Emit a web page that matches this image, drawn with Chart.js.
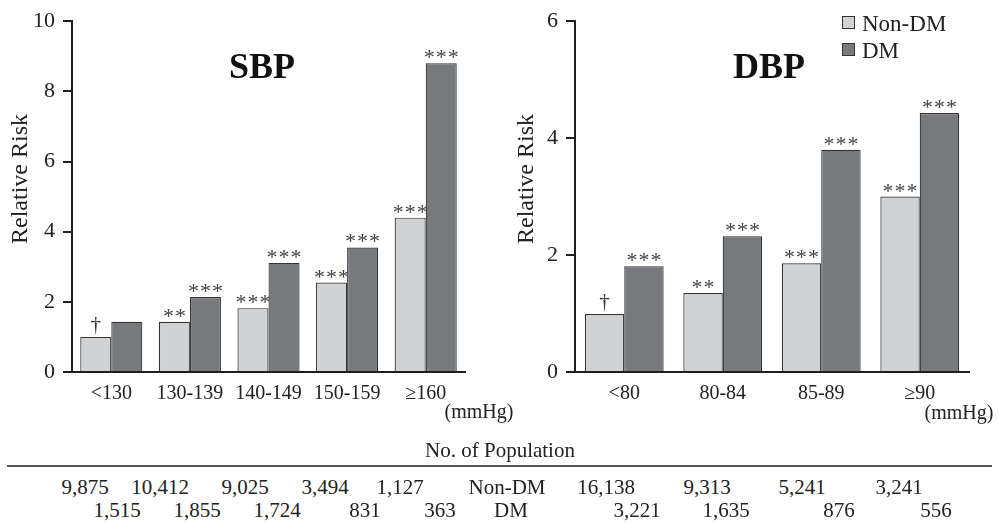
<!DOCTYPE html>
<html>
<head>
<meta charset="utf-8">
<script src="https://cdn.jsdelivr.net/npm/chart.js@4"></script>
<style>
  html, body { margin: 0; padding: 0; background: #fff; }
  body { width: 999px; height: 524px; position: relative; overflow: hidden;
         font-family: "Liberation Serif", "Times New Roman", serif; color: #222; }
  .abs { position: absolute; white-space: nowrap; line-height: 1; transform: translate(-50%, -50%); }
  .cv { position: absolute; top: 0; }
  .sw { position: absolute; width: 11px; height: 11px; border: 1.5px solid #333; }
</style>
</head>
<body>
<div class="cv" style="left:0;width:500px;height:430px;"><canvas id="sbp" width="500" height="430"></canvas></div>
<div class="cv" style="left:500px;width:499px;height:430px;"><canvas id="dbp" width="499" height="430"></canvas></div>
<div id="overlay"></div>
<script>
// ---- data ----
const seriesNames = ['Non-DM', 'DM'];
const sbpCategories = ['<130', '130-139', '140-149', '150-159', '\u2265160'];
const sbpNonDM = [1.0, 1.43, 1.82, 2.55, 4.4];
const sbpDM = [1.43, 2.14, 3.11, 3.55, 8.8];
const sbpSigNonDM = ['\u2020', '**', '***', '***', '***'];
const sbpSigDM = ['', '***', '***', '***', '***'];
const sbpTicks = [0, 2, 4, 6, 8, 10];

const dbpCategories = ['<80', '80-84', '85-89', '\u226590'];
const dbpNonDM = [0.99, 1.35, 1.86, 3.0];
const dbpDM = [1.81, 2.32, 3.8, 4.43];
const dbpSigNonDM = ['\u2020', '**', '***', '***'];
const dbpSigDM = ['***', '***', '***', '***'];
const dbpTicks = [0, 2, 4, 6];

const popSbpNonDM = ['9,875', '10,412', '9,025', '3,494', '1,127'];
const popSbpDM = ['1,515', '1,855', '1,724', '831', '363'];
const popDbpNonDM = ['16,138', '9,313', '5,241', '3,241'];
const popDbpDM = ['3,221', '1,635', '876', '556'];

// ---- styles ----
const LIGHT = '#d1d2d4', DARK = '#78797d', EDGE = '#333333', AXIS = '#1e1e1e';
const FONT = '"Liberation Serif", "Times New Roman", serif';

const sigPlugin = {
  id: 'sig',
  afterDatasetsDraw(chart, args, opts) {
    const ctx = chart.ctx;
    ctx.save();
    ctx.textAlign = 'center';
    ctx.textBaseline = 'alphabetic';
    opts.labels.forEach((arr, di) => {
      const meta = chart.getDatasetMeta(di);
      meta.data.forEach((el, i) => {
        const t = arr[i];
        if (!t) return;
        if (t === '\u2020') {
          ctx.fillStyle = '#333';
          ctx.letterSpacing = '0px';
          ctx.font = '21px ' + FONT;
          ctx.fillText(t, el.x, el.y - 6);
        } else {
          ctx.fillStyle = '#444';
          ctx.letterSpacing = '1px';
          ctx.font = '22px ' + FONT;
          ctx.fillText(t, el.x + 0.5, el.y + 1);
        }
      });
    });
    ctx.restore();
  }
};

function makeChart(id, cats, a, b, sigA, sigB, ticks, yWidth, padRight, catPct) {
  const max = ticks[ticks.length - 1];
  return new Chart(document.getElementById(id), {
    type: 'bar',
    data: {
      labels: cats,
      datasets: [
        { label: seriesNames[0], data: a, backgroundColor: LIGHT, borderColor: EDGE, borderWidth: 1.2,
          categoryPercentage: catPct, barPercentage: 1.0 },
        { label: seriesNames[1], data: b, backgroundColor: DARK, borderColor: EDGE, borderWidth: 1.2,
          categoryPercentage: catPct, barPercentage: 1.0 }
      ]
    },
    options: {
      responsive: false,
      animation: false,
      events: [],
      layout: { padding: { top: 21, right: padRight, left: 0, bottom: 0 } },
      plugins: {
        legend: { display: false },
        tooltip: { enabled: false },
        sig: { labels: [sigA, sigB] }
      },
      scales: {
        x: {
          grid: { display: false, drawTicks: false },
          border: { display: true, color: AXIS, width: 2 },
          ticks: { color: '#222', font: { family: FONT, size: 20 }, padding: 10, maxRotation: 0, autoSkip: false },
          afterFit: (s) => { s.height = 58; }
        },
        y: {
          min: 0, max: max,
          afterBuildTicks: (s) => { s.ticks = ticks.map(v => ({ value: v })); },
          grid: { drawOnChartArea: false, drawTicks: true, tickLength: 9, color: AXIS, lineWidth: 2 },
          border: { display: true, color: AXIS, width: 2 },
          ticks: { color: '#222', font: { family: FONT, size: 22 }, padding: 8 },
          afterFit: (s) => { s.width = yWidth; }
        }
      }
    },
    plugins: [sigPlugin]
  });
}

makeChart('sbp', sbpCategories, sbpNonDM, sbpDM, sbpSigNonDM, sbpSigDM, sbpTicks, 72, 35, 0.79);
makeChart('dbp', dbpCategories, dbpNonDM, dbpDM, dbpSigNonDM, dbpSigDM, dbpTicks, 75, 30, 0.80);

// ---- overlay texts ----
const ov = document.getElementById('overlay');
function txt(s, x, y, size, extra) {
  const d = document.createElement('div');
  d.className = 'abs';
  d.textContent = s;
  d.style.left = x + 'px';
  d.style.top = y + 'px';
  d.style.fontSize = size + 'px';
  if (extra) Object.assign(d.style, extra);
  ov.appendChild(d);
  return d;
}
txt('SBP', 262, 66, 36, { fontWeight: 'bold', color: '#111' });
txt('DBP', 769, 66, 36, { fontWeight: 'bold', color: '#111' });
txt('Relative Risk', 19, 179, 24, { transform: 'translate(-50%, -50%) rotate(-90deg)' });
txt('Relative Risk', 525, 179, 24, { transform: 'translate(-50%, -50%) rotate(-90deg)' });
txt('(mmHg)', 479, 411, 20);
txt('(mmHg)', 959, 412, 20);

// legend
[[seriesNames[0], LIGHT, 23], [seriesNames[1], DARK, 50]].forEach(([name, col, cy]) => {
  const s = document.createElement('div');
  s.className = 'sw';
  s.style.left = '842px';
  s.style.top = (cy - 7) + 'px';
  s.style.background = col;
  ov.appendChild(s);
  txt(name, 862, cy, 23, { transform: 'translate(0, -50%)' });
});

// table
txt('No. of Population', 500, 450, 21);
const line = document.createElement('div');
Object.assign(line.style, { position: 'absolute', left: '7px', width: '985px', top: '465px', height: '2px', background: '#555' });
ov.appendChild(line);
const row1X = [85, 160, 245, 325, 400];
const row2X = [117, 197, 277, 365, 440];
const row1XR = [606, 707, 802, 899];
const row2XR = [637, 726, 839, 936];
popSbpNonDM.forEach((v, i) => txt(v, row1X[i], 487, 21));
popSbpDM.forEach((v, i) => txt(v, row2X[i], 510, 21));
txt(seriesNames[0], 507, 487, 21);
txt(seriesNames[1], 511, 510, 21);
popDbpNonDM.forEach((v, i) => txt(v, row1XR[i], 487, 21));
popDbpDM.forEach((v, i) => txt(v, row2XR[i], 510, 21));
</script>
</body>
</html>
